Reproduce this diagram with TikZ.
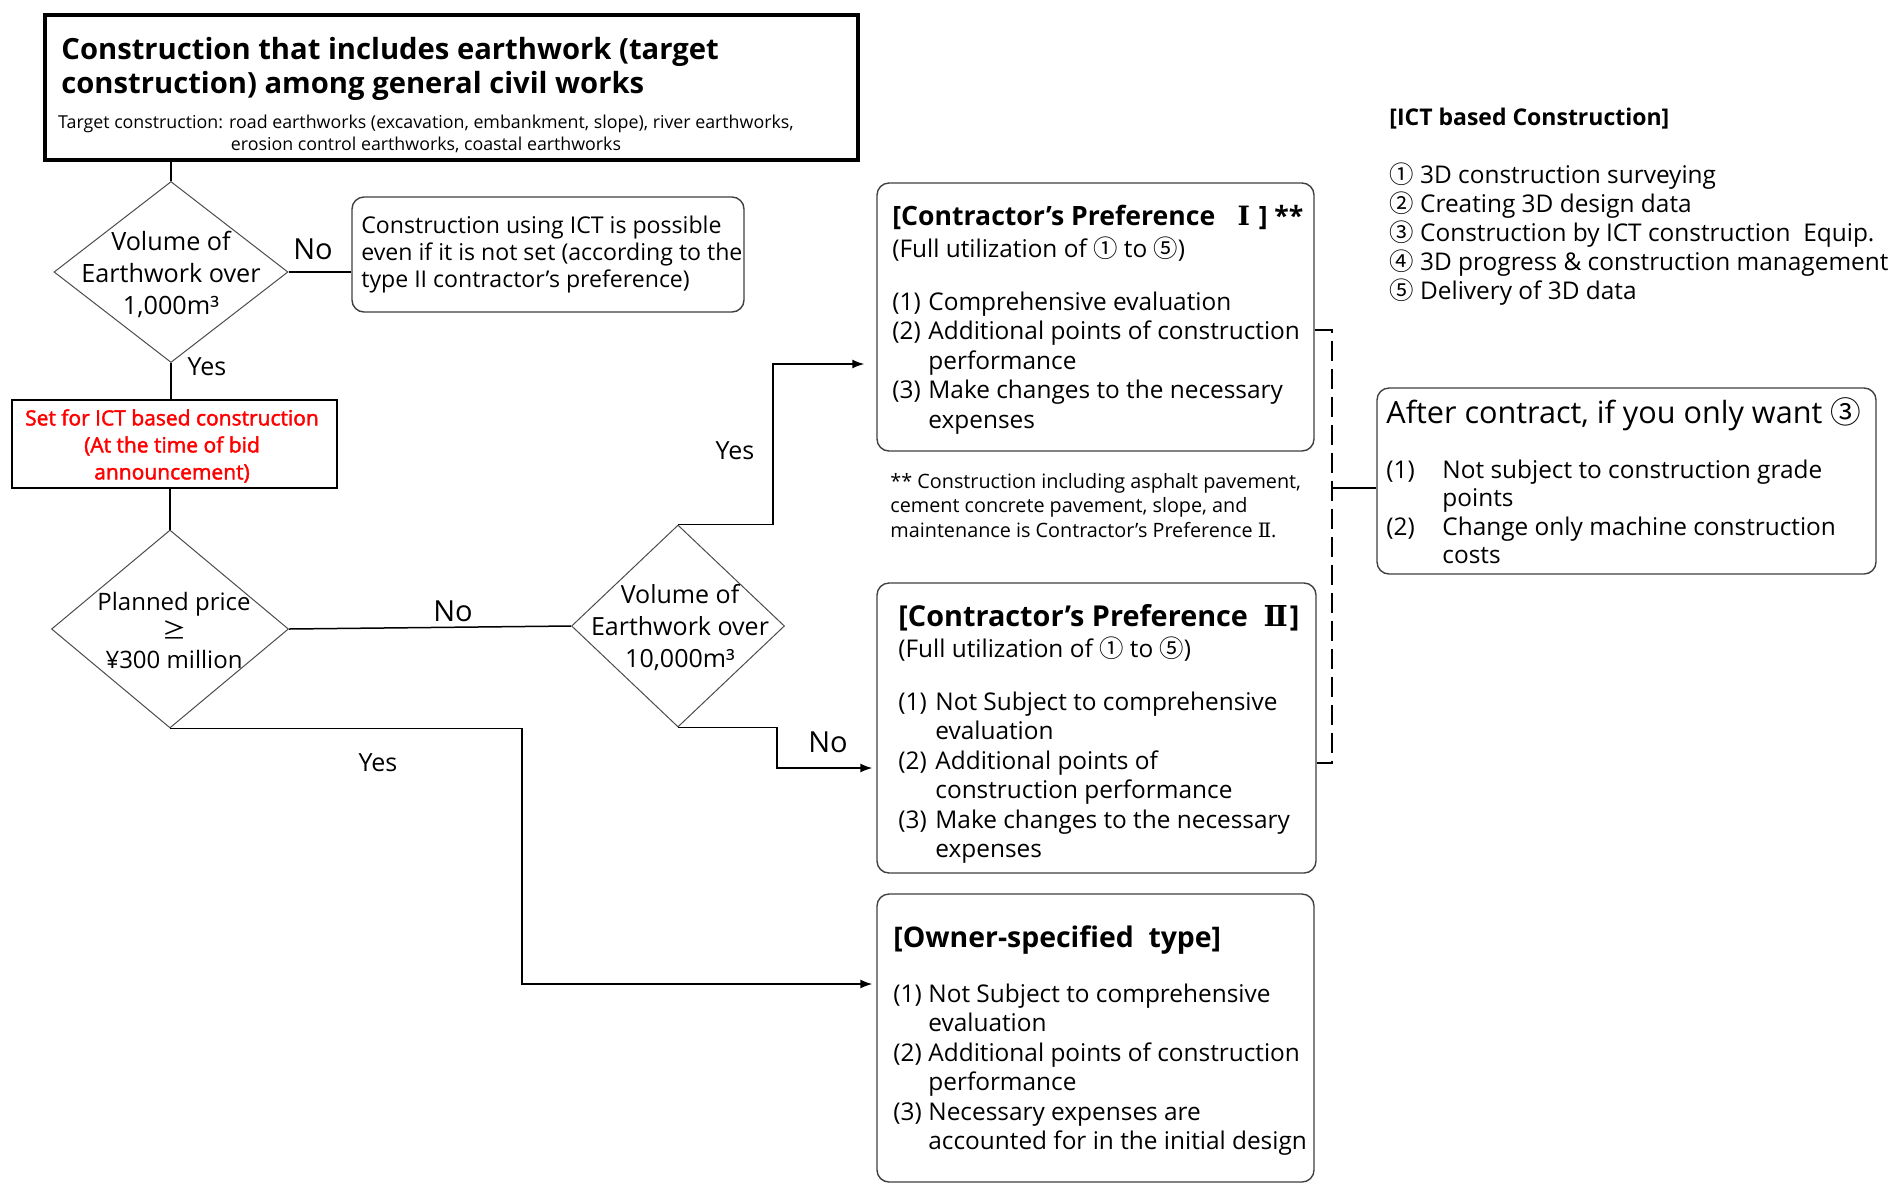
\documentclass[tikz,border=0pt]{standalone}
\usepackage{fontspec}
\setmainfont{Open Sans}
\newfontfamily\cjk{Noto Sans CJK KR}
\newfontfamily\rom{DejaVu Serif}
\newfontfamily\redf[FakeBold=2]{Open Sans}
\usetikzlibrary{shapes.geometric,arrows.meta}
\newcommand\fl{\rule{0pt}{1em}}
\newcommand\cd[1]{{\cjk #1}}
\newcommand\rn[1]{{\rom #1}}
\newcommand\ib[2][18pt]{\makebox[#1][l]{#2}}
\begin{document}
\begin{tikzpicture}[x=0.5pt,y=-0.5pt,
  thickbox/.style={draw=black, rectangle, line width=1.8pt, inner sep=0pt},
  redbox/.style={draw=black, rectangle, line width=1.4pt, inner sep=0pt},
  rbox/.style={draw=black!75, rectangle, rounded corners=6pt, line width=0.7pt, inner sep=0pt},
  dia/.style={diamond, draw=black!70, line width=0.5pt, inner sep=0pt},
  conn/.style={draw=black, line width=0.75pt},
  arr/.style={conn, -{Latex[length=6pt,width=4.5pt]}},
  brk/.style={draw=black, line width=1pt, dash pattern=on 10pt off 4pt},
  tx/.style={inner sep=0pt, anchor=north west, align=left},
  txc/.style={inner sep=0pt, anchor=north, align=center},
  lbl/.style={inner sep=0pt, anchor=center, font=\fontsize{12.5}{14}\selectfont},
  nolbl/.style={inner sep=0pt, anchor=center, font=\fontsize{14.5}{16}\selectfont},
  body/.style={tx, font=\fontsize{12.2}{14.7}\selectfont},
  ttl/.style={tx, font=\bfseries\fontsize{13.3}{15}\selectfont}
]
\fill[white] (0,0) rectangle (1889,1195);
\useasboundingbox (0,0) rectangle (1889,1195);

% ---------- boxes ----------
\node[thickbox, minimum width=406.5pt, minimum height=72.5pt] (top) at (451.5,87.5) {};
\node[dia, minimum width=117pt, minimum height=90.5pt] (d1) at (171,272) {};
\node[rbox, minimum width=196pt, minimum height=57.5pt] (g) at (548,254.5) {};
\node[redbox, minimum width=162.5pt, minimum height=44pt] (r) at (174.5,444) {};
\node[dia, minimum width=118.5pt, minimum height=99pt] (d2) at (170,629) {};
\node[dia, minimum width=106.5pt, minimum height=101pt] (d3) at (678,626) {};
\node[rbox, minimum width=218.5pt, minimum height=134pt] (p1) at (1095.5,317) {};
\node[rbox, minimum width=219.5pt, minimum height=145pt] (p2) at (1096.5,728) {};
\node[rbox, minimum width=218.5pt, minimum height=144pt] (ow) at (1095.5,1038) {};
\node[rbox, minimum width=249.5pt, minimum height=93pt] (af) at (1626.5,481) {};

% ---------- texts ----------
\node[tx, font=\bfseries\fontsize{14.6}{17}\selectfont] (title) at (61,29.8)
  {\fl Construction that includes earthwork (target\\construction) among general civil works};
\node[txc, font=\fontsize{8.9}{11}\selectfont] (sub) at (426,110.2)
  {\fl Target construction: road earthworks (excavation, embankment, slope), river earthworks,\\erosion control earthworks, coastal earthworks};
\node[txc, font=\fontsize{12.6}{16}\selectfont] (d1t) at (171,224.8)
  {\fl Volume of\\Earthwork over\\1,000m³};
\node[tx, font=\fontsize{11.55}{13.5}\selectfont] (gt) at (361,209.9)
  {\fl Construction using ICT is possible\\even if it is not set (according to the\\type II contractor's preference)};
\node[txc, font=\redf\fontsize{10.5}{13.5}\selectfont, text=red] (rt) at (172,404)
  {\fl Set for ICT based construction\\(At the time of bid\\announcement)};
\node[txc, font=\fontsize{12}{14.5}\selectfont] (d2t) at (174,586)
  {\fl Planned price\\\cd{≥}\\¥300 million};
\node[txc, font=\fontsize{12.5}{16}\selectfont] (d3t) at (680,578)
  {\fl Volume of\\Earthwork over\\10,000m³};

\node[nolbl] (no1) at (313,249) {No};
\node[lbl] (yes1) at (207,367) {Yes};
\node[nolbl] (no2) at (453,611) {No};
\node[lbl] (yes2) at (735,451) {Yes};
\node[nolbl] (no3) at (828,742) {No};
\node[lbl] (yes3) at (378,763) {Yes};

% Preference I
\node[ttl] (p1t) at (892,198.4) {\fl [Contractor’s Preference \ \hspace{4.2pt}\rn{\bfseries Ⅰ}\hspace{4.4pt}] **};
\node[body] (p1f) at (892,232.6) {\fl (Full utilization of \cd{①} to \cd{⑤})};
\node[body] (p1l) at (892,285.6)
  {\fl\ib{(1)}Comprehensive evaluation\\\ib{(2)}Additional points of construction\\\ib{}performance\\\ib{(3)}Make changes to the necessary\\\ib{}expenses};
\node[tx, font=\fontsize{9.9}{12.25}\selectfont] (note) at (890,468.2)
  {\fl ** Construction including asphalt pavement,\\cement concrete pavement, slope, and\\maintenance is Contractor's Preference \rn{Ⅱ}.};

% Preference II
\node[tx, font=\bfseries\fontsize{14.4}{16}\selectfont] (p2t) at (898,597.2) {\fl [Contractor’s Preference \hspace{4pt}\rn{\bfseries Ⅱ}\hspace{1pt}]};
\node[body] (p2f) at (898,632.6) {\fl (Full utilization of \cd{①} to \cd{⑤})};
\node[body] (p2l) at (898,685.6)
  {\fl\ib[18.5pt]{(1)}Not Subject to comprehensive\\\ib[18.5pt]{}evaluation\\\ib[18.5pt]{(2)}Additional points of\\\ib[18.5pt]{}construction performance\\\ib[18.5pt]{(3)}Make changes to the necessary\\\ib[18.5pt]{}expenses};

% Owner-specified
\node[tx, font=\bfseries\fontsize{14.2}{16}\selectfont] (owt) at (893,918.6) {\fl [Owner-specified\ \ type]};
\node[body] (owl) at (893,977.6)
  {\fl\ib[17.5pt]{(1)}Not Subject to comprehensive\\\ib[17.5pt]{}evaluation\\\ib[17.5pt]{(2)}Additional points of construction\\\ib[17.5pt]{}performance\\\ib[17.5pt]{(3)}Necessary expenses are\\\ib[17.5pt]{}accounted for in the initial design};

% ICT list
\node[tx, font=\bfseries\fontsize{11.5}{14}\selectfont] (ictt) at (1389,102) {\fl [ICT based Construction]};
\node[tx, font=\fontsize{12.2}{14.5}\selectfont] (ictl) at (1389,158.6)
  {\fl\cd{①} 3D construction surveying\\\cd{②} Creating 3D design data\\\cd{③} Construction by ICT construction \ Equip.\\\cd{④} 3D progress \& construction management\\\cd{⑤} Delivery of 3D data};

% After contract
\node[tx, font=\fontsize{15.3}{17}\selectfont] (aft) at (1386,392.4) {\fl After contract, if you only want \cd{③}};
\node[tx, font=\fontsize{12.2}{14.2}\selectfont] (afl) at (1386,453.6)
  {\fl\ib[28pt]{(1)}Not subject to construction grade\\\ib[28pt]{}points\\\ib[28pt]{(2)}Change only machine construction\\\ib[28pt]{}costs};

% ---------- connectors ----------
\coordinate (c1) at (773,364);
\coordinate (c2) at (777,768);
\coordinate (c3) at (522,984);
\coordinate (b1) at (1332,330);
\coordinate (b2) at (1332,763);
\coordinate (b3) at (1332,488);

\draw[conn] (d1.north |- top.south) -- (d1.north);
\draw[conn] (d1.east) -- (d1.east -| g.west);
\draw[conn] (d1.south) -- (d1.south |- r.north);
\draw[conn] (d2.north |- r.south) -- (d2.north);
\draw[conn] (d2.east) -- (d3.west);
\draw[arr, shorten >=6pt] (d3.north) -| (c1) -- (c1 -| p1.west);
\draw[arr, shorten >=2pt] (d3.south) -| (c2) -- (c2 -| p2.west);
\draw[arr, shorten >=2pt] (d2.south) -| (c3) -- (c3 -| ow.west);
\draw[brk] (b1 -| p1.east) -- (b1) -- (b2) -- (b2 -| p2.east);
\draw[conn, line width=1pt] (b3) -- (b3 -| af.west);
\end{tikzpicture}
\end{document}
